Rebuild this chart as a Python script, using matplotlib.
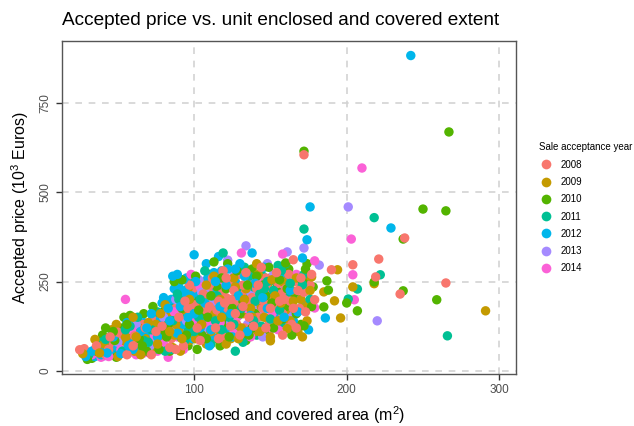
import matplotlib.pyplot as plt
from matplotlib.lines import Line2D

plt.rcParams["font.family"] = ["Liberation Sans", "DejaVu Sans"]
plt.rcParams["mathtext.fontset"] = "custom"
plt.rcParams["mathtext.rm"] = "Liberation Sans"
plt.rcParams["mathtext.it"] = "Liberation Sans:italic"

YEARS = ["2008", "2009", "2010", "2011", "2012", "2013", "2014"]
COLORS = ["#F8766D", "#C49A00", "#53B400", "#00C094", "#00B6EB", "#A58AFF", "#FB61D7"]

# (area m2, price k EUR) per sale acceptance year
pts_2008 = [(28, 62), (31, 50), (42, 45), (47, 78), (52, 95), (55, 60), (58, 110), (63, 85),
            (66, 130), (70, 72), (74, 140), (77, 100), (81, 160), (85, 90), (88, 175), (92, 120),
            (95, 210), (98, 150), (101, 230), (103, 180), (105, 110), (107, 250), (109, 200),
            (111, 140), (113, 225), (115, 170), (117, 265), (119, 95), (121, 205), (123, 240),
            (125, 150), (127, 185), (129, 270), (131, 215), (133, 120), (135, 190), (137, 250),
            (139, 160), (141, 230), (143, 200), (145, 175), (147, 260), (149, 140), (151, 215),
            (153, 185), (155, 245), (158, 160), (160, 230), (163, 195), (166, 250), (169, 175),
            (172, 220), (176, 240), (108, 170), (118, 215), (128, 130), (138, 205), (148, 230),
            (112, 260), (122, 175), (132, 240), (142, 150), (152, 200), (162, 270), (157, 215),
            (146, 195), (126, 225), (116, 195), (106, 215), (96, 175),
            (25, 59), (36, 70), (44, 60), (50, 108), (56, 45), (61, 98), (68, 120), (72, 45),
            (79, 125), (84, 65), (90, 150), (93, 70), (97, 240), (100, 185), (104, 85),
            (110, 240), (114, 120), (119, 280), (124, 200), (130, 100), (134, 275), (139, 125),
            (144, 290), (150, 175), (154, 275), (159, 200), (164, 130), (168, 225), (173, 165),
            (177, 270), (110, 180), (127, 160), (142, 240), (156, 195), (121, 260),
            (45, 95), (60, 70), (75, 110), (88, 60), (102, 120), (116, 90), (124, 125),
            (136, 150), (147, 120), (158, 100), (165, 175), (170, 260), (132, 180), (120, 190),
            (94, 195),
            (172, 605), (238, 372), (165, 311), (221, 313), (204, 297), (190, 283), (219, 263),
            (265, 246), (235, 215), (179, 199), (167, 120)]
pts_2009 = [(33, 42), (38, 58), (44, 92), (46, 115), (50, 40), (53, 75), (57, 100), (61, 55),
            (64, 120), (68, 90), (72, 60), (75, 130), (79, 80), (83, 150), (86, 65), (90, 110),
            (94, 170), (97, 85), (100, 140), (104, 195), (108, 75), (112, 160), (116, 115),
            (120, 240), (124, 90), (128, 205), (132, 160), (136, 265), (140, 110), (144, 180),
            (148, 240), (152, 130), (156, 285), (160, 170), (164, 225), (168, 110), (172, 185),
            (174, 260), (150, 95), (134, 230), (118, 185), (102, 105), (88, 130), (142, 270),
            (126, 260), (158, 250), (170, 200),
            (27, 48), (35, 88), (41, 75), (49, 130), (55, 95), (60, 150), (65, 45), (70, 135),
            (76, 75), (81, 185), (87, 100), (91, 55), (96, 230), (101, 90), (106, 205),
            (111, 110), (117, 200), (121, 75), (127, 235), (131, 120), (137, 175), (141, 300),
            (146, 150), (151, 255), (157, 190), (163, 140), (167, 260), (171, 95), (176, 225),
            (113, 265), (138, 150), (153, 210),
            (38, 50), (62, 95), (78, 160), (92, 90), (105, 130), (118, 150), (129, 90),
            (143, 110), (155, 140), (165, 195), (174, 140), (108, 240), (97, 200), (84, 110),
            (133, 200),
            (177, 263), (194, 283), (218, 244), (204, 235), (185, 221), (192, 196), (196, 148),
            (291, 168), (161, 118), (150, 84)]
pts_2010 = [(33, 35), (40, 100), (45, 60), (49, 38), (54, 150), (59, 70), (62, 105), (67, 160),
            (71, 50), (76, 115), (80, 165), (84, 55), (89, 140), (93, 205), (96, 70), (99, 245),
            (102, 60), (106, 165), (110, 270), (114, 90), (118, 195), (122, 300), (126, 120),
            (130, 225), (134, 85), (138, 285), (142, 195), (146, 110), (150, 260), (154, 230),
            (158, 145), (162, 285), (166, 205), (170, 130), (174, 300), (178, 235), (120, 135),
            (140, 160), (160, 180), (100, 195), (80, 110), (130, 160), (115, 235), (145, 240),
            (30, 32), (36, 55), (42, 120), (48, 85), (53, 120), (58, 155), (64, 90), (69, 55),
            (73, 180), (77, 60), (83, 130), (87, 250), (92, 175), (97, 130), (101, 265),
            (105, 100), (109, 150), (113, 305), (117, 70), (121, 230), (128, 280), (132, 195),
            (136, 100), (141, 265), (147, 210), (152, 120), (156, 255), (161, 230), (167, 160),
            (171, 250), (125, 175), (111, 210), (149, 290),
            (47, 110), (66, 70), (82, 95), (95, 100), (108, 90), (123, 95), (138, 120),
            (151, 190), (164, 100), (177, 180), (92, 255), (135, 240), (118, 260), (103, 170),
            (56, 130),
            (172, 615), (267, 669), (250, 453), (265, 448), (237, 369), (173, 285), (160, 302),
            (218, 249), (187, 252), (188, 226), (237, 224), (259, 199), (200, 190), (185, 179),
            (207, 168), (172, 126)]
pts_2011 = [(37, 48), (43, 70), (48, 55), (51, 105), (56, 85), (60, 130), (65, 65), (69, 110),
            (73, 150), (78, 70), (82, 125), (87, 185), (91, 95), (95, 150), (98, 220), (101, 130),
            (105, 240), (109, 100), (113, 180), (117, 250), (121, 110), (125, 200), (129, 155),
            (133, 290), (137, 210), (141, 100), (145, 265), (149, 180), (153, 250), (157, 135),
            (161, 210), (165, 175), (169, 250), (127, 55), (112, 210), (96, 110), (139, 235),
            (155, 295), (175, 240),
            (31, 45), (39, 80), (46, 100), (53, 55), (58, 125), (63, 150), (67, 85), (72, 115),
            (76, 165), (81, 55), (86, 140), (90, 200), (94, 85), (99, 175), (103, 150),
            (107, 280), (111, 75), (115, 210), (119, 330), (123, 150), (128, 230), (132, 80),
            (136, 265), (140, 195), (144, 125), (148, 250), (152, 225), (156, 170), (160, 300),
            (166, 120), (172, 270), (118, 115), (143, 215),
            (42, 88), (55, 115), (70, 80), (85, 60), (100, 110), (114, 140), (126, 130),
            (139, 140), (150, 145), (163, 245), (176, 200), (104, 200), (131, 175), (146, 230),
            (89, 215),
            (218, 429), (172, 397), (157, 280), (222, 269), (207, 229), (171, 241), (201, 201),
            (266, 98)]
pts_2012 = [(35, 40), (39, 45), (45, 48), (50, 65), (54, 110), (58, 90), (62, 75), (67, 135),
            (70, 100), (74, 60), (78, 145), (82, 100), (85, 200), (88, 160), (90, 235), (93, 130),
            (95, 260), (97, 185), (99, 90), (100, 325), (103, 210), (106, 140), (109, 260),
            (112, 95), (115, 230), (118, 280), (120, 165), (124, 120), (127, 250), (130, 300),
            (134, 195), (138, 330), (142, 120), (146, 290), (150, 205), (154, 160), (160, 260),
            (165, 140), (170, 200), (92, 210), (87, 230), (79, 190), (108, 300), (116, 320),
            (122, 285),
            (29, 40), (33, 55), (41, 62), (47, 95), (52, 48), (56, 135), (60, 60), (65, 110),
            (72, 160), (76, 95), (80, 205), (84, 140), (86, 265), (89, 105), (91, 180),
            (94, 225), (96, 150), (101, 250), (104, 120), (107, 190), (110, 70), (113, 275),
            (117, 180), (121, 240), (125, 95), (129, 210), (133, 265), (137, 155), (140, 245),
            (145, 205), (157, 280), (163, 225), (168, 165),
            (43, 50), (57, 70), (69, 120), (83, 175), (93, 255), (100, 160), (111, 115),
            (124, 160), (135, 110), (148, 175), (159, 150), (98, 210), (114, 250), (127, 285),
            (89, 270),
            (242, 883), (176, 459), (229, 400), (174, 367), (171, 316), (186, 148), (175, 115)]
pts_2013 = [(41, 42), (57, 50), (66, 115), (75, 90), (86, 125), (91, 160), (98, 105), (104, 170),
            (110, 225), (119, 145), (126, 275), (134, 350), (141, 180), (148, 300), (156, 230),
            (163, 160), (135, 130), (115, 90), (122, 310),
            (35, 60), (50, 80), (62, 130), (71, 70), (80, 150), (88, 200), (95, 140), (103, 255),
            (108, 110), (113, 195), (120, 255), (128, 190), (137, 220), (144, 160), (152, 270),
            (159, 240), (145, 95), (105, 220), (124, 135),
            (201, 459), (172, 344), (161, 333), (182, 296), (220, 140)]
pts_2014 = [(39, 38), (47, 50), (55, 200), (62, 45), (69, 80), (76, 55), (83, 38), (89, 95),
            (95, 115), (102, 190), (107, 125), (114, 160), (123, 185), (131, 95), (140, 140),
            (149, 110), (158, 130), (167, 270), (131, 330), (98, 270),
            (33, 45), (44, 40), (52, 60), (59, 115), (67, 50), (74, 100), (80, 75), (87, 165),
            (93, 60), (99, 140), (104, 235), (110, 130), (118, 240), (126, 105), (134, 175),
            (143, 250), (151, 160), (161, 195), (117, 135), (128, 150), (137, 95), (155, 115),
            (210, 568), (203, 369), (158, 327), (179, 308), (204, 269), (205, 199), (179, 176)]

SERIES = [pts_2008, pts_2009, pts_2010, pts_2011, pts_2012, pts_2013, pts_2014]

X_TICKS = [100, 200, 300]
Y_TICKS = [0, 250, 500, 750]


def main():
    fig = plt.figure(figsize=(6.34, 4.26), dpi=100)
    ax = fig.add_axes([0.098, 0.122, 0.716, 0.782])

    # interleave the years so no colour sits wholly on top
    xs, ys, cs = [], [], []
    longest = max(len(s) for s in SERIES)
    for i in range(longest):
        for s, c in zip(SERIES, COLORS):
            if i < len(s):
                xs.append(s[i][0])
                ys.append(s[i][1])
                cs.append(c)
    ax.scatter(xs, ys, c=cs, s=46, linewidths=0, zorder=3)

    ax.set_xlim(13.5, 311)
    ax.set_ylim(-9, 924)
    ax.set_xticks(X_TICKS)
    ax.set_yticks(Y_TICKS)
    ax.set_yticklabels([str(v) for v in Y_TICKS], rotation=90, va="center")
    ax.tick_params(colors="#333333", labelcolor="#4D4D4D", labelsize=8.5, length=4, width=1)
    ax.grid(True, color="#D3D3D3", linestyle=(0, (4, 4)), linewidth=1.2, zorder=0)
    ax.set_axisbelow(True)
    for sp in ax.spines.values():
        sp.set_color("#555555")
        sp.set_linewidth(1)

    ax.set_xlabel("Enclosed and covered area (m$^2$)", fontsize=11.5, labelpad=6)
    ax.set_ylabel("Accepted price (10$^3$ Euros)", fontsize=11.5, labelpad=6)
    fig.text(0.098, 0.952, "Accepted price vs. unit enclosed and covered extent",
             fontsize=13.7, ha="left", va="center")

    handles = [Line2D([], [], marker="o", linestyle="", markersize=7, color=c,
                      markeredgewidth=0) for c in COLORS]
    leg = fig.legend(handles, YEARS, title="Sale acceptance year", loc="upper left",
                     bbox_to_anchor=(0.844, 0.675), frameon=False, fontsize=7,
                     title_fontsize=7, handletextpad=0.8, labelspacing=0.75,
                     handlelength=1.4, borderaxespad=0)
    leg._legend_box.align = "left"

    fig.savefig("out.png", dpi=100)


if __name__ == "__main__":
    main()
